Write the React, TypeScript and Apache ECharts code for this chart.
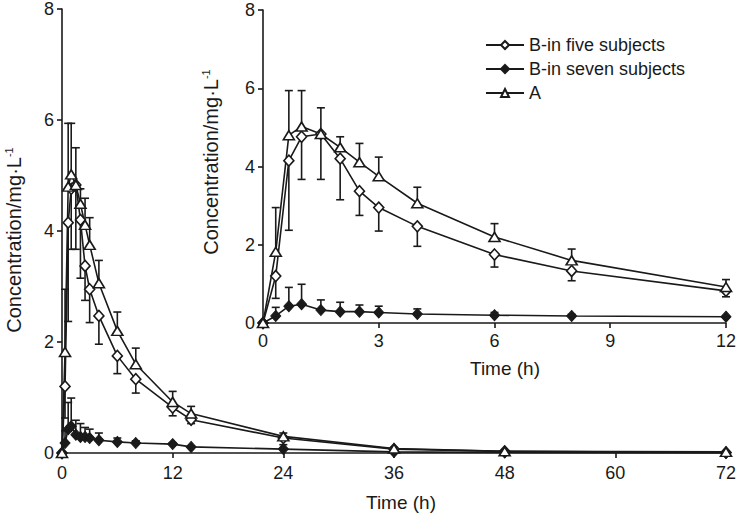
import React, { useEffect, useRef } from "react";
import * as echarts from "echarts";

const timeH = [0, 0.33, 0.67, 1, 1.5, 2, 2.5, 3, 4, 6, 8, 12, 14, 24, 36, 48, 72];
const bFive = [0, 1.2, 4.15, 4.76, 4.83, 4.2, 3.37, 2.95, 2.47, 1.75, 1.33, 0.82, 0.6, 0.27, 0.07, 0.03, 0.01];
const bFiveSD = [0, 0.57, 1.78, 1.09, 1.16, 1.05, 0.62, 0.6, 0.51, 0.32, 0.25, 0.15, 0.07, 0.04, 0.01, 0, 0];
const bSeven = [0, 0.18, 0.43, 0.48, 0.33, 0.29, 0.29, 0.27, 0.23, 0.2, 0.18, 0.16, 0.11, 0.07, 0.02, 0.01, 0];
const bSevenSD = [0, 0.22, 0.48, 0.51, 0.26, 0.24, 0.17, 0.16, 0.13, 0.07, 0.04, 0.02, 0.02, 0.08, 0, 0, 0];
const aVals = [0, 1.82, 4.8, 5.02, 4.83, 4.49, 4.11, 3.75, 3.06, 2.2, 1.6, 0.92, 0.71, 0.3, 0.08, 0.03, 0.02];
const aSD = [0, 1.13, 1.14, 0.92, 0.67, 0.27, 0.48, 0.49, 0.41, 0.34, 0.29, 0.19, 0.13, 0.06, 0.02, 0, 0];

const mainXTicks = [0, 12, 24, 36, 48, 60, 72];
const insetXTicks = [0, 3, 6, 9, 12];
const yTicks = [0, 2, 4, 6, 8];

const seriesNames = ["B-in five subjects", "B-in seven subjects", "A"];

const FONT = "'Liberation Sans', Arial, Helvetica, sans-serif";
const INK = "#1a1a1a";

export default function App() {
  const ref = useRef<HTMLDivElement>(null);
  useEffect(() => {
    if (!ref.current) return;
    const chart = echarts.init(ref.current, undefined, { renderer: "svg" });

    const pairs = (vals: number[], maxT: number) =>
      timeH.map((t, i) => [t, vals[i]]).filter((p) => p[0] <= maxT);
    const errs = (vals: number[], sd: number[], maxT: number) =>
      timeH
        .map((t, i) => [t, vals[i], sd[i]])
        .filter((p) => p[0] <= maxT && p[2] > 0);

    const errSeries = (idx: number, vals: number[], sd: number[], dir: number, maxT: number) => ({
      type: "custom",
      name: "err" + idx + "_" + maxT,
      xAxisIndex: idx,
      yAxisIndex: idx,
      z: 1,
      encode: { x: 0, y: 1 },
      data: errs(vals, sd, maxT),
      renderItem: (params: any, api: any) => {
        const x = api.value(0);
        const y = api.value(1);
        const e = api.value(2);
        const p0 = api.coord([x, y]);
        const p1 = api.coord([x, y + dir * e]);
        const st = { stroke: INK, lineWidth: 1.6 };
        return {
          type: "group",
          children: [
            { type: "line", shape: { x1: p0[0], y1: p0[1], x2: p1[0], y2: p1[1] }, style: st },
            { type: "line", shape: { x1: p1[0] - 4, y1: p1[1], x2: p1[0] + 4, y2: p1[1] }, style: st },
          ],
        };
      },
    });

    const lineSeries = (idx: number, maxT: number) => [
      {
        type: "line",
        name: seriesNames[0],
        xAxisIndex: idx,
        yAxisIndex: idx,
        z: 3,
        data: pairs(bFive, maxT),
        symbol: "diamond",
        symbolSize: [10, 11],
        showSymbol: true,
        lineStyle: { color: INK, width: 1.6 },
        itemStyle: { color: "#ffffff", borderColor: INK, borderWidth: 1.6 },
      },
      {
        type: "line",
        name: seriesNames[1],
        xAxisIndex: idx,
        yAxisIndex: idx,
        z: 3,
        data: pairs(bSeven, maxT),
        symbol: "diamond",
        symbolSize: [10, 11],
        showSymbol: true,
        lineStyle: { color: INK, width: 1.6 },
        itemStyle: { color: INK, borderColor: INK, borderWidth: 1 },
      },
      {
        type: "line",
        name: seriesNames[2],
        xAxisIndex: idx,
        yAxisIndex: idx,
        z: 3,
        data: pairs(aVals, maxT),
        symbol: "triangle",
        symbolSize: [11, 9],
        showSymbol: true,
        lineStyle: { color: INK, width: 1.6 },
        itemStyle: { color: "#ffffff", borderColor: INK, borderWidth: 1.6 },
      },
    ];

    const axisCommon = {
      axisLine: { show: true, onZero: false, lineStyle: { color: INK, width: 1.6 } },
      axisTick: { show: true, inside: false, length: 5, lineStyle: { color: INK, width: 1.6 } },
      splitLine: { show: false },
    };

    const xAxis = (idx: number, ticks: number[], margin: number) => ({
      type: "value",
      gridIndex: idx,
      min: ticks[0],
      max: ticks[ticks.length - 1],
      interval: ticks[1] - ticks[0],
      ...axisCommon,
      axisLabel: { fontSize: 18, color: INK, fontFamily: FONT, margin },
    });
    const yAxis = (idx: number) => ({
      type: "value",
      gridIndex: idx,
      min: yTicks[0],
      max: yTicks[yTicks.length - 1],
      interval: yTicks[1] - yTicks[0],
      ...axisCommon,
      axisLabel: { fontSize: 18, color: INK, fontFamily: FONT, margin: 8 },
    });

    const yTitle = (x: number, y: number) => ({
      type: "text",
      x,
      y,
      rotation: Math.PI / 2,
      style: {
        text: "{a|Concentration/mg·L}{s|-1}",
        fill: INK,
        align: "center",
        verticalAlign: "middle",
        fontFamily: FONT,
        rich: {
          a: { fontSize: 20, fontFamily: FONT, fill: INK, lineHeight: 22 },
          s: { fontSize: 11, fontFamily: FONT, fill: INK, verticalAlign: "top", lineHeight: 12 },
        },
      },
    });
    const xTitle = (x: number, y: number) => ({
      type: "text",
      x,
      y,
      style: {
        text: "Time (h)",
        fill: INK,
        fontSize: 19,
        fontFamily: FONT,
        align: "center",
        verticalAlign: "middle",
      },
    });

    chart.setOption({
      animation: false,
      backgroundColor: "#ffffff",
      textStyle: { fontFamily: FONT },
      grid: [
        { left: 62, top: 6, right: 10, bottom: 63 },
        { left: 263, top: 10, right: 9, bottom: 193 },
      ],
      xAxis: [xAxis(0, mainXTicks, 11), xAxis(1, insetXTicks, 9)],
      yAxis: [yAxis(0), yAxis(1)],
      legend: {
        data: seriesNames,
        orient: "vertical",
        left: 480,
        top: 31,
        itemWidth: 38,
        itemHeight: 10,
        itemGap: 6,
        textStyle: { fontSize: 18, color: INK, fontFamily: FONT },
        selectedMode: false,
      },
      graphic: [yTitle(14, 240), yTitle(211, 162), xTitle(401, 502), xTitle(505, 368)],
      series: [
        errSeries(0, aVals, aSD, 1, 72),
        errSeries(0, bFive, bFiveSD, -1, 72),
        errSeries(0, bSeven, bSevenSD, 1, 72),
        errSeries(1, aVals, aSD, 1, 12),
        errSeries(1, bFive, bFiveSD, -1, 12),
        errSeries(1, bSeven, bSevenSD, 1, 12),
        ...lineSeries(0, 72),
        ...lineSeries(1, 12),
      ],
    });
    return () => chart.dispose();
  }, []);
  return (
    <div
      ref={ref}
      style={{ position: "fixed", left: 0, top: 0, width: 739, height: 516, background: "#fff" }}
    />
  );
}
